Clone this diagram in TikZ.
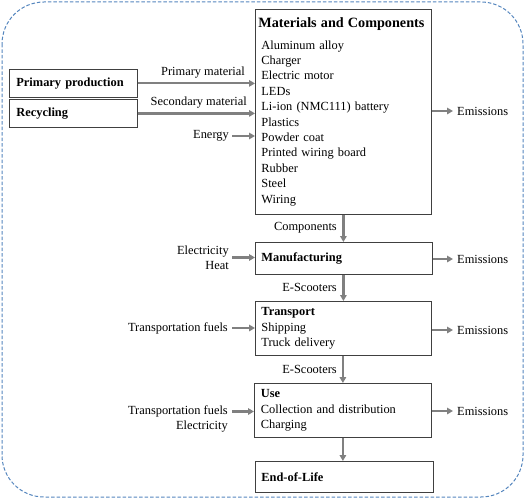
\documentclass[tikz,border=0pt]{standalone}
\usepackage{fontspec}
\setmainfont{Liberation Serif}
\usetikzlibrary{arrows.meta,positioning}
\definecolor{framecol}{HTML}{5586BE}

\begin{document}
\begin{tikzpicture}[x=1pt,y=-1pt,
         stagebox/.style={rectangle,draw=black!75,line width=0.8pt,anchor=north west,
                          align=left,inner xsep=6pt,inner ysep=0pt,
                          font=\fontsize{12.4}{15.4}\selectfont},
         sidebox/.style={stagebox,minimum width=128pt,minimum height=28pt,inner xsep=7pt,text width=114pt},
         lbl/.style={inner sep=0pt,font=\fontsize{12.4}{15.4}\selectfont},
         tipoflow/.style={-{Triangle[length=6pt,width=6.5pt]},draw=black!50,line width=2.2pt}]
        \useasboundingbox (0,0) rectangle (526,500);
        \draw [framecol,line width=1pt,dash pattern=on 3.5pt off 2pt,rounded corners=42pt] (2,2) rectangle (523,497);
        % stages
        \node [stagebox,text width=164pt,minimum height=205pt] (mat) at (255,9)
              {\hspace*{-3pt}{\fontsize{14.2}{17}\selectfont\bfseries Materials and Components}\\[6pt]
               Aluminum alloy\\Charger\\Electric motor\\LEDs\\Li-ion (NMC111) battery\\Plastics\\
               Powder coat\\Printed wiring board\\Rubber\\Steel\\Wiring};
        \node [sidebox] (prim) at (9,69) {\bfseries Primary production};
        \node [sidebox] (recy) at (9,99) {\bfseries Recycling};
        \node [stagebox,text width=165pt,minimum height=32pt] (manu) at (255,242) {\bfseries Manufacturing};
        \node [stagebox,text width=164pt,minimum height=54pt] (trans) at (255,301)
              {\textbf{Transport}\\Shipping\\Truck delivery};
        \node [stagebox,text width=164pt,inner xsep=6.5pt,minimum height=54pt] (use) at (254,383)
              {\textbf{Use}\\Collection and distribution\\Charging};
        \node [stagebox,text width=166pt,minimum height=31pt] (eol) at (255,461) {\bfseries End-of-Life};
        % inputs
        \node [lbl,anchor=east] (energy) at (229,136) {Energy};
        \node [lbl,anchor=east,align=right] (manuin) at (229,257.5) {Electricity\\Heat};
        \node [lbl,anchor=east] (transin) at (228,328) {Transportation fuels};
        \node [lbl,anchor=east,align=right] (usein) at (228,419) {Transportation fuels\\Electricity};
        \coordinate (usein end) at (232,411.5);
        \node [lbl,anchor=east] (primlbl) at (245,73) {Primary material};
        \node [lbl,anchor=east] (secolbl) at (247,103) {Secondary material};
        % outputs
        \node [lbl,anchor=west] (emmat) at (457,111) {Emissions};
        \node [lbl,anchor=west] (emmanu) at (457,259) {Emissions};
        \node [lbl,anchor=west] (emtrans) at (457,330) {Emissions};
        \node [lbl,anchor=west] (emuse) at (457,411) {Emissions};
        % flow labels
        \node [lbl,anchor=east] (comp) at (337,228) {Components};
        \node [lbl,anchor=east] (scoot1) at (337,287) {E-Scooters};
        \node [lbl,anchor=east] (scoot2) at (337,369) {E-Scooters};
        % arrows
        \draw [tipoflow] (prim.east) -- (prim.east -| mat.west);
        \draw [tipoflow] (recy.east) -- (recy.east -| mat.west);
        \draw [tipoflow] ([xshift=3pt]energy.east) -- (energy.east -| mat.west);
        \draw [tipoflow] ([xshift=3pt]manuin.east) -- (manuin.east -| manu.west);
        \draw [tipoflow] ([xshift=4pt]transin.east) -- (transin.east -| trans.west);
        \draw [tipoflow] (usein end) -- (usein end -| use.west);
        \draw [tipoflow] (mat.east |- emmat.west) -- ([xshift=-4pt]emmat.west);
        \draw [tipoflow] (manu.east |- emmanu.west) -- ([xshift=-4pt]emmanu.west);
        \draw [tipoflow] (trans.east |- emtrans.west) -- ([xshift=-4pt]emtrans.west);
        \draw [tipoflow] (use.east |- emuse.west) -- ([xshift=-4pt]emuse.west);
        \draw [tipoflow] (mat.south) -- (mat.south |- manu.north);
        \draw [tipoflow] (mat.south |- manu.south) -- (mat.south |- trans.north);
        \draw [tipoflow] (use.north |- trans.south) -- (use.north);
        \draw [tipoflow] (use.south) -- (use.south |- eol.north);
\end{tikzpicture}
\end{document}
